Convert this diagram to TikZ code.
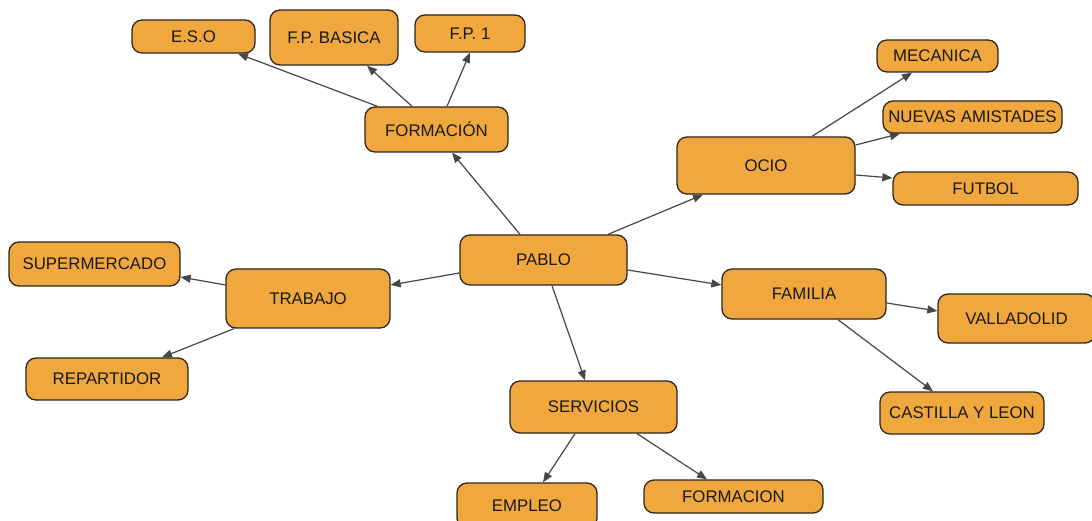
\documentclass[tikz,border=0pt]{standalone}
\usepackage{fontspec}
\setmainfont{Liberation Sans}
\usetikzlibrary{arrows.meta}
\definecolor{boxfill}{RGB}{240,168,62}
\definecolor{boxline}{RGB}{45,38,30}
\definecolor{linkcol}{RGB}{70,70,70}
\tikzset{
  concept/.style={draw=boxline, line width=1.3pt, fill=boxfill, rounded corners=10pt,
    inner sep=0pt, font=\fontsize{16.8}{19}\selectfont, text=black!90},
  link/.style={draw=linkcol, line width=1.2pt, -{Triangle[length=10pt,width=8pt]}}
}
\newcommand{\cbox}[6]{\node[concept, minimum width=#4pt, minimum height=#5pt] (#1) at (#2,#3) {#6};}
\begin{document}
\begin{tikzpicture}[x=1pt,y=-1pt]
\useasboundingbox[fill=white] (0,0) rectangle (1092,521);
\cbox{eso}{193.5}{36.5}{123}{33}{E.S.O}
\cbox{fpb}{334}{37.5}{128}{55}{F.P. BASICA}
\cbox{fpone}{470}{33.5}{110}{37}{F.P. 1}
\cbox{form}{436.5}{129.5}{143}{45}{FORMACIÓN}
\cbox{meca}{937.5}{56}{121}{32}{MECANICA}
\cbox{nuev}{972.5}{117}{179}{32}{NUEVAS AMISTADES}
\cbox{ocio}{766}{165.5}{178}{57}{OCIO}
\cbox{futb}{985.5}{188.5}{185}{33}{FUTBOL}
\cbox{super}{94.5}{264}{171}{44}{SUPERMERCADO}
\cbox{trab}{308}{298.5}{164}{59}{TRABAJO}
\cbox{repa}{107}{379}{162}{42}{REPARTIDOR}
\cbox{pablo}{543.5}{260}{167}{50}{PABLO}
\cbox{serv}{593.5}{407}{167}{52}{SERVICIOS}
\cbox{empl}{527}{505.5}{140}{45}{EMPLEO}
\cbox{formc}{733.5}{496.5}{179}{33}{FORMACION}
\cbox{fam}{804}{294}{164}{50}{FAMILIA}
\cbox{vall}{1016.5}{318.5}{157}{49}{VALLADOLID}
\cbox{cast}{962}{413}{164}{42}{CASTILLA Y LEON}

\draw[link] ([xshift=-23.5pt]pablo.north) -- ([xshift=15.5pt]form.south);
\draw[link] ([xshift=-59pt]form.north) -- ([xshift=44.5pt]eso.south);
\draw[link] ([xshift=-24.5pt]form.north) -- ([xshift=33pt]fpb.south);
\draw[link] ([xshift=10.5pt]form.north) -- (fpone.south);
\draw[link] ([xshift=64.5pt]pablo.north) -- ([xshift=-63pt]ocio.south);
\draw[link] ([xshift=46pt]ocio.north) -- ([xshift=-25.5pt]meca.south);
\draw[link] ([yshift=20.5pt]ocio.east) -- ([xshift=-72.5pt]nuev.south);
\draw[link] ([yshift=-9.5pt]ocio.east) -- ([yshift=10.5pt]futb.west);
\draw[link] ([yshift=-13pt]pablo.west) -- ([yshift=13.5pt]trab.east);
\draw[link] ([yshift=13.5pt]trab.west) -- ([yshift=-13pt]super.east);
\draw[link] ([xshift=-74pt]trab.south) -- ([xshift=55pt]repa.north);
\draw[link] ([xshift=8.5pt]pablo.south) -- ([xshift=-8.5pt]serv.north);
\draw[link] ([xshift=-18.5pt]serv.south) -- ([xshift=16pt]empl.north);
\draw[link] ([xshift=43.5pt]serv.south) -- ([xshift=-26.5pt]formc.north);
\draw[link] ([yshift=-10pt]pablo.east) -- ([yshift=9pt]fam.west);
\draw[link] ([yshift=-9pt]fam.east) -- ([yshift=7.5pt]vall.west);
\draw[link] ([xshift=34pt]fam.south) -- ([xshift=-29pt]cast.north);
\end{tikzpicture}
\end{document}
